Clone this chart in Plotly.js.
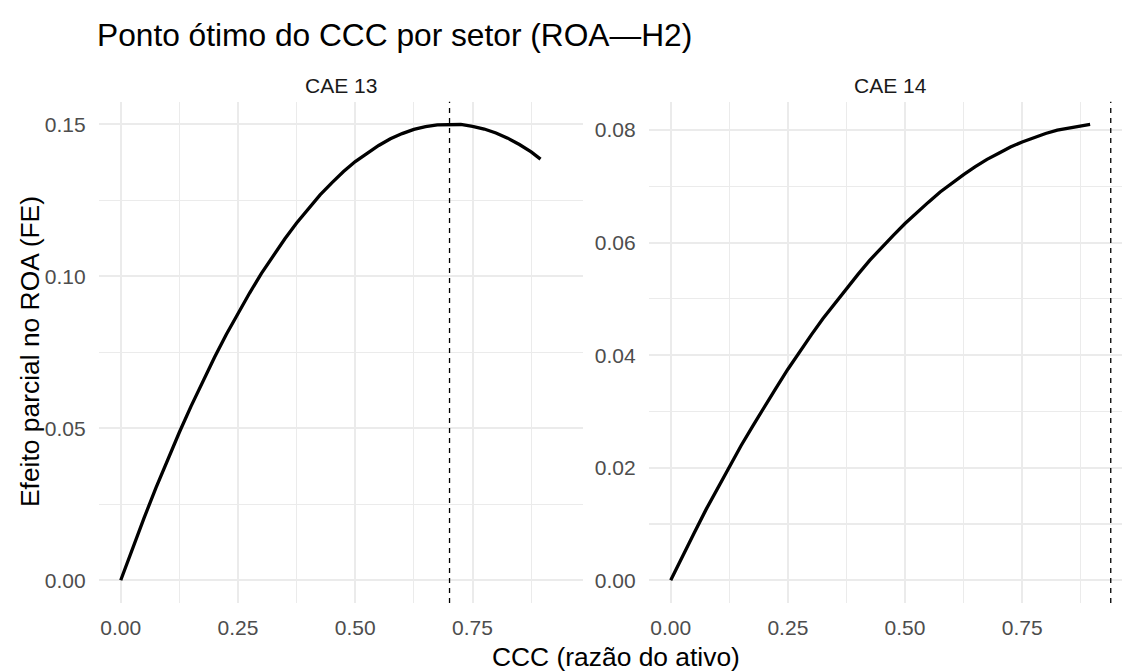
<!DOCTYPE html>
<html>
<head>
<meta charset="utf-8">
<script src="https://cdn.plot.ly/plotly-3.0.1.min.js"></script>
<style>html,body{margin:0;padding:0;background:#fff;}#chart{width:1122px;height:671px;}</style>
</head>
<body>
<div id="chart"></div>
<script>
// ---- data ----
const sectors = ["CAE 13", "CAE 14"];
const ccc = [0, 0.025, 0.05, 0.075, 0.10, 0.125, 0.15, 0.175, 0.20, 0.225, 0.25, 0.275, 0.30, 0.325, 0.35,
             0.375, 0.40, 0.425, 0.45, 0.475, 0.50, 0.525, 0.55, 0.575, 0.60, 0.625, 0.65, 0.675, 0.70,
             0.725, 0.75, 0.775, 0.80, 0.825, 0.85, 0.875, 0.895];
const efeitoCAE13 = [0, 0.0105, 0.0206, 0.0304, 0.0398, 0.0487, 0.0573, 0.0656, 0.0734, 0.0809, 0.0879, 0.0946,
                     0.1010, 0.1069, 0.1124, 0.1176, 0.1224, 0.1268, 0.1308, 0.1345, 0.1378, 0.1406, 0.1431,
                     0.1453, 0.1470, 0.1484, 0.1493, 0.1499, 0.1500, 0.1500, 0.1494, 0.1485, 0.1472, 0.1455,
                     0.1434, 0.1410, 0.1386];
const efeitoCAE14 = [0, 0.0043, 0.0084, 0.0125, 0.0164, 0.0202, 0.0239, 0.0274, 0.0309, 0.0342, 0.0375, 0.0406,
                     0.0436, 0.0465, 0.0492, 0.0519, 0.0544, 0.0569, 0.0592, 0.0613, 0.0634, 0.0654, 0.0672,
                     0.0690, 0.0706, 0.0721, 0.0735, 0.0748, 0.0759, 0.0770, 0.0779, 0.0787, 0.0794, 0.0800,
                     0.0804, 0.0808, 0.0810];
const otimoCAE13 = 0.701;
const otimoCAE14 = 0.939;
const titulo = "Ponto ótimo do CCC por setor (ROA—H2)";
const tituloX = "CCC (razão do ativo)";
const tituloY = "Efeito parcial no ROA (FE)";

// ---- layout ----
const W = 1122, H = 671;
const FONT = "Liberation Sans, Arial, sans-serif";
const GRID = "#EBEBEB";
const tickFont = {family: FONT, size: 21, color: "#4D4D4D"};

const xr1 = [-0.047, 0.986];
const xr2 = [-0.047, 0.963];
const dom1 = [98.7 / W, 583.2 / W];
const dom2 = [648.7 / W, 1];
const ydom = [68 / H, 569.3 / H];

function xaxisCfg(domain, range, anchor) {
  return {
    domain: domain, range: range, anchor: anchor,
    tickvals: [0, 0.25, 0.5, 0.75], tickformat: ".2f",
    showgrid: true, gridcolor: GRID, gridwidth: 2,
    minor: {tickvals: [0.125, 0.375, 0.625, 0.875], showgrid: true, gridcolor: GRID, gridwidth: 1.2},
    zeroline: false, showline: false, ticks: "", tickfont: tickFont,
    ticklabelstandoff: 10, fixedrange: true
  };
}
function yaxisCfg(range, dtick, minorVals, anchor) {
  return {
    domain: ydom, range: range, anchor: anchor, dtick: dtick, tick0: 0, tickformat: ".2f",
    showgrid: true, gridcolor: GRID, gridwidth: 2,
    minor: {tickvals: minorVals, showgrid: true, gridcolor: GRID, gridwidth: 1.2},
    zeroline: false, showline: false, ticks: "", tickfont: tickFont,
    ticklabelstandoff: 12, fixedrange: true
  };
}

const traces = [
  {x: ccc, y: efeitoCAE13, xaxis: "x", yaxis: "y", type: "scatter", mode: "lines",
   line: {color: "#000000", width: 3.3}, hoverinfo: "skip", name: sectors[0]},
  {x: ccc, y: efeitoCAE14, xaxis: "x2", yaxis: "y2", type: "scatter", mode: "lines",
   line: {color: "#000000", width: 3.3}, hoverinfo: "skip", name: sectors[1]}
];

const layout = {
  width: W, height: H,
  margin: {l: 0, r: 0, t: 0, b: 0},
  paper_bgcolor: "#ffffff", plot_bgcolor: "rgba(0,0,0,0)",
  showlegend: false,
  font: {family: FONT},
  title: {text: titulo, x: 97 / W, xanchor: "left", xref: "paper", y: 1 - 35 / H, yanchor: "middle",
          font: {family: FONT, size: 31.7, color: "#000000"}},
  xaxis: xaxisCfg(dom1, xr1, "y"),
  yaxis: yaxisCfg([-0.0075, 0.1575], 0.05, [0.025, 0.075, 0.125], "x"),
  xaxis2: xaxisCfg(dom2, xr2, "y2"),
  yaxis2: yaxisCfg([-0.00405, 0.08505], 0.02, [0.01, 0.03, 0.05, 0.07], "x2"),
  shapes: [
    {type: "line", xref: "x", yref: "y domain", x0: otimoCAE13, x1: otimoCAE13, y0: 0, y1: 1,
     line: {color: "#000000", width: 1.3, dash: "5px,5px"}},
    {type: "line", xref: "x2", yref: "y2 domain", x0: otimoCAE14, x1: otimoCAE14, y0: 0, y1: 1,
     line: {color: "#000000", width: 1.3, dash: "5px,5px"}}
  ],
  annotations: [
    {text: sectors[0], xref: "paper", yref: "paper", x: (dom1[0] + dom1[1]) / 2, y: 1 - 85 / H,
     xanchor: "center", yanchor: "middle", showarrow: false, font: {family: FONT, size: 21, color: "#1A1A1A"}},
    {text: sectors[1], xref: "paper", yref: "paper", x: 890.7 / W, y: 1 - 85 / H,
     xanchor: "center", yanchor: "middle", showarrow: false, font: {family: FONT, size: 21, color: "#1A1A1A"}},
    {text: tituloX, xref: "paper", yref: "paper", x: 615.7 / W, y: 1 - 657 / H,
     xanchor: "center", yanchor: "middle", showarrow: false, font: {family: FONT, size: 26.4, color: "#000000"}},
    {text: tituloY, xref: "paper", yref: "paper", x: 30 / W, y: 1 - 352 / H, textangle: -90,
     xanchor: "center", yanchor: "middle", showarrow: false, font: {family: FONT, size: 26.4, color: "#000000"}}
  ]
};

Plotly.newPlot("chart", traces, layout, {displayModeBar: false, staticPlot: true});
</script>
</body>
</html>
